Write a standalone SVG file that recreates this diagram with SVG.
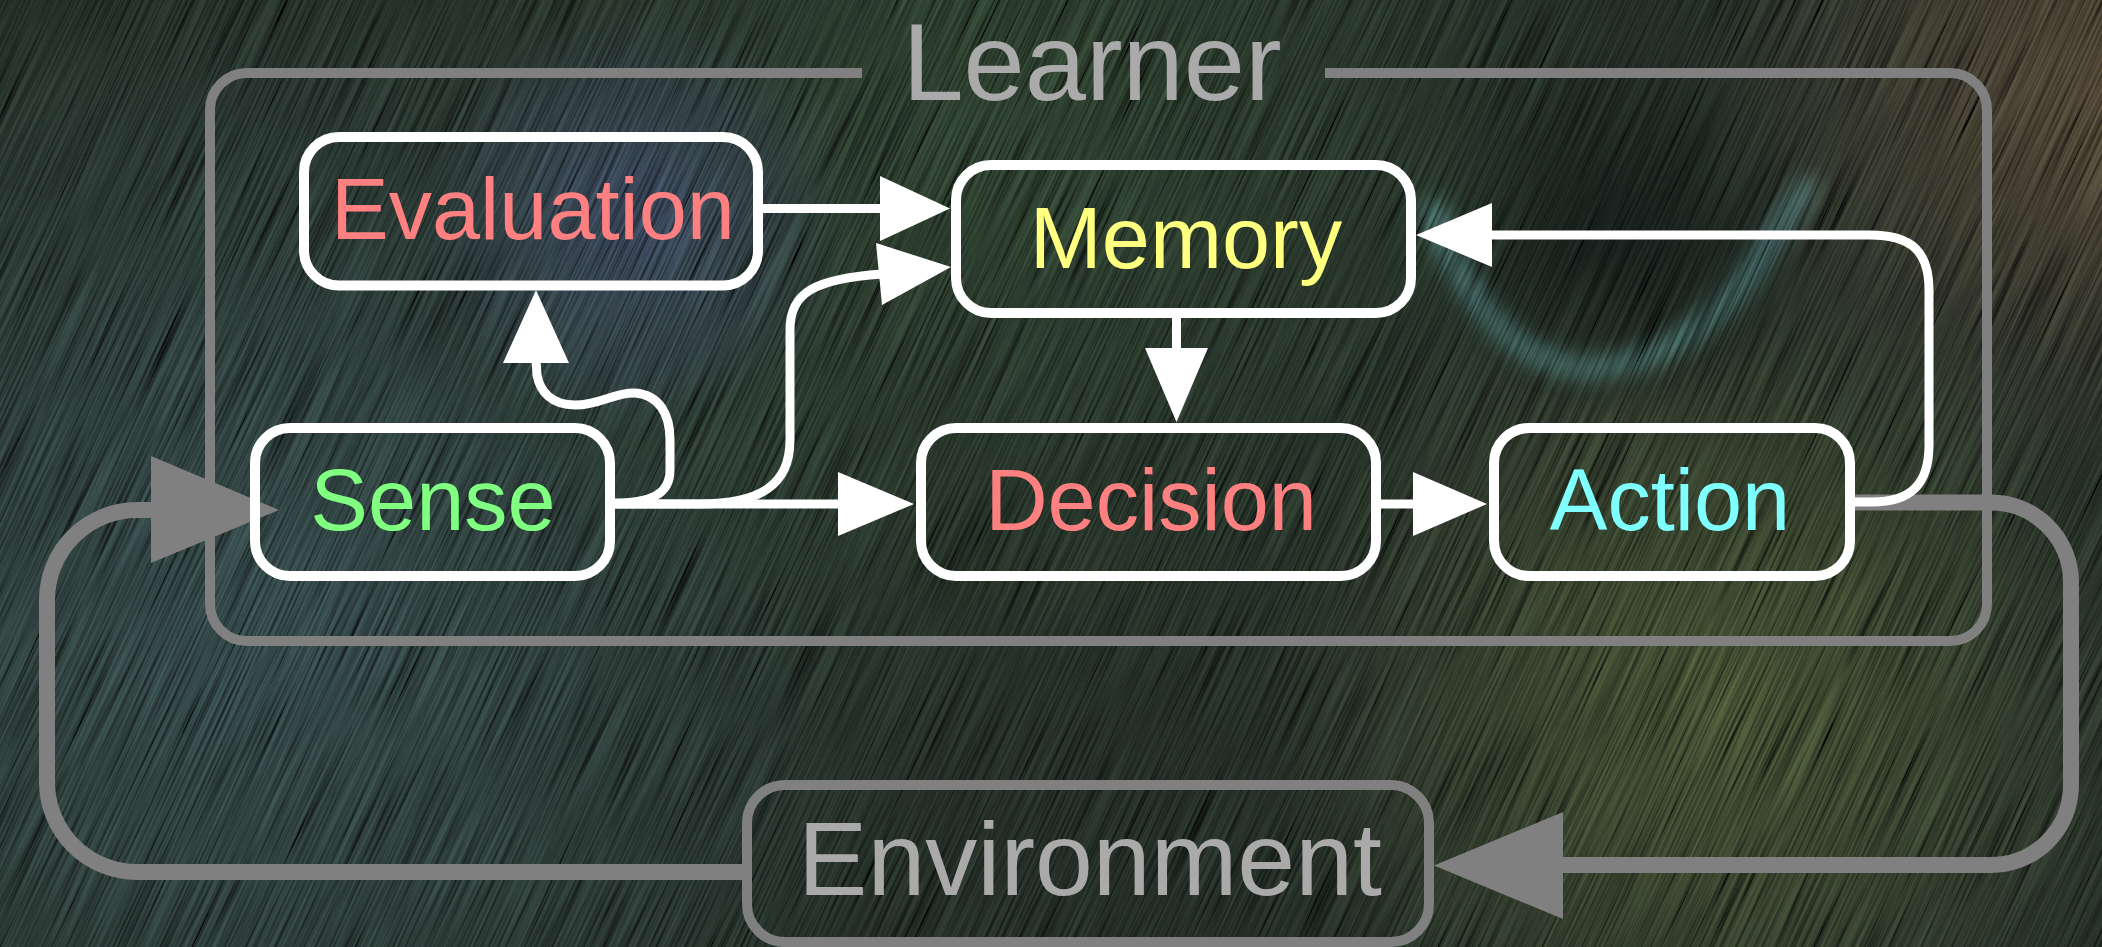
<svg xmlns="http://www.w3.org/2000/svg" width="2102" height="947" viewBox="0 0 2102 947">
  <style>
    .box { fill: none; stroke: #ffffff; stroke-width: 10; }
    .env { fill: none; stroke: #808080; stroke-width: 10; }
    .frame { fill: none; stroke: #808080; stroke-width: 10; }
    .wire { fill: none; stroke: #ffffff; stroke-width: 9; }
    .loop { fill: none; stroke: #808080; stroke-width: 16; }
    .head { fill: #ffffff; }
    .ghead { fill: #808080; }
    .lbl { font-family: "Liberation Sans", Arial, Helvetica, sans-serif; font-size: 86.5px; text-anchor: middle; }
    .big { font-family: "Liberation Sans", Arial, Helvetica, sans-serif; text-anchor: middle; fill: #aaaaaa; }
  </style>
  <defs>
    <radialGradient id="gTeal" gradientUnits="userSpaceOnUse" cx="260" cy="620" r="680">
      <stop offset="0" stop-color="#28393b" stop-opacity="0.75"/>
      <stop offset="1" stop-color="#28393b" stop-opacity="0"/>
    </radialGradient>
    <radialGradient id="gViolet" gradientUnits="userSpaceOnUse" cx="640" cy="215" r="220">
      <stop offset="0" stop-color="#343c62" stop-opacity="0.5"/>
      <stop offset="1" stop-color="#343c62" stop-opacity="0"/>
    </radialGradient>
    <radialGradient id="gGreen" gradientUnits="userSpaceOnUse" cx="1000" cy="120" r="620">
      <stop offset="0" stop-color="#283c27" stop-opacity="0.45"/>
      <stop offset="1" stop-color="#283c27" stop-opacity="0"/>
    </radialGradient>
    <radialGradient id="gOlive" gradientUnits="userSpaceOnUse" cx="1720" cy="700" r="460">
      <stop offset="0" stop-color="#46502b" stop-opacity="0.5"/>
      <stop offset="1" stop-color="#46502b" stop-opacity="0"/>
    </radialGradient>
    <radialGradient id="gBrown" gradientUnits="userSpaceOnUse" cx="2102" cy="90" r="400">
      <stop offset="0" stop-color="#3b3226" stop-opacity="0.9"/>
      <stop offset="1" stop-color="#3b3226" stop-opacity="0"/>
    </radialGradient>
    <radialGradient id="gEye" gradientUnits="userSpaceOnUse" cx="1620" cy="230" r="190">
      <stop offset="0" stop-color="#0e1311" stop-opacity="0.85"/>
      <stop offset="1" stop-color="#0e1311" stop-opacity="0"/>
    </radialGradient>
    <filter id="soft" x="-20%" y="-20%" width="140%" height="140%">
      <feGaussianBlur stdDeviation="10"/>
    </filter>
    <filter id="streaks" filterUnits="userSpaceOnUse" x="-40" y="-920" width="2400" height="1820">
      <feTurbulence type="fractalNoise" baseFrequency="0.45 0.006" numOctaves="3" seed="11"/>
      <feColorMatrix type="matrix" values="1.5 0 0 0 -0.27  1.5 0 0 0 -0.27  1.5 0 0 0 -0.27  0 0 0 0 1"/>
    </filter>
  </defs>

  <!-- textured backdrop -->
  <g id="backdrop">
    <rect width="2102" height="947" fill="#19201b"/>
    <rect width="2102" height="947" fill="url(#gTeal)"/>
    <rect width="2102" height="947" fill="url(#gGreen)"/>
    <rect width="2102" height="947" fill="url(#gViolet)"/>
    <rect width="2102" height="947" fill="url(#gOlive)"/>
    <rect width="2102" height="947" fill="url(#gBrown)"/>
    <rect width="2102" height="947" fill="url(#gEye)"/>
    <path d="M1430,200 C1460,300 1520,370 1590,368 C1660,366 1720,320 1760,260 C1780,230 1800,195 1812,180" fill="none" stroke="#5a9aa0" stroke-width="22" opacity="0.3" filter="url(#soft)"/>
    <rect x="-40" y="-920" width="2400" height="1820" transform="rotate(25)" filter="url(#streaks)" style="mix-blend-mode:overlay"/>
  </g>

  <!-- Learner frame with its title in the gap of the top edge -->
  <g id="learner">
    <path class="frame" d="M862,73 H247 A37,37 0 0 0 210,110 V604 A37,37 0 0 0 247,641 H1950 A37,37 0 0 0 1987,604 V110 A37,37 0 0 0 1950,73 H1325"/>
    <text class="big" x="1092" y="100" font-size="110">Learner</text>
  </g>

  <g id="connectors">
    <!-- outer loop: Action -> Environment -> Sense -->
    <path class="loop" d="M1850,502.5 H1991 A80,80 0 0 1 2071,582.5 V785 A80,80 0 0 1 1991,865 H1560"/>
    <polygon class="ghead" points="1563,812 1434,865.5 1563,919"/>
    <path class="loop" d="M742,872 H137 A90,90 0 0 1 47,782 V600 A90,90 0 0 1 137,510 H155"/>
    <polygon class="ghead" points="151,456 279,510 151,563"/>

    <!-- Evaluation -> Memory -->
    <path class="wire" d="M763,208.5 H882"/>
    <polygon class="head" points="880,176 950,208.5 880,241"/>
    <!-- Sense -> Memory -->
    <path class="wire" d="M612,504 H700 C760,504 790,485 790,440 V330 C790,292 815,279 882,274"/>
    <polygon class="head" points="876,243 951,267 882,305"/>
    <!-- Sense -> Evaluation -->
    <path class="wire" d="M612,503 C650,503 670,495 670,470 L670,440 C670,415 660,395 635,393 C615,392 600,405 575,405 C552,405 540,392 537,375 L536,360"/>
    <polygon class="head" points="503,363 536,290 569,363"/>
    <!-- Memory -> Decision -->
    <path class="wire" d="M1176.5,313 V351"/>
    <polygon class="head" points="1145,348 1176.5,422 1208,348"/>
    <!-- Sense -> Decision -->
    <path class="wire" d="M610,504 H840"/>
    <polygon class="head" points="838,472 914,504 838,536"/>
    <!-- Decision -> Action -->
    <path class="wire" d="M1376,504 H1415"/>
    <polygon class="head" points="1413,472 1487,504 1413,536"/>
    <!-- Action -> Memory -->
    <path class="wire" d="M1850,502 H1872 C1910,502 1929,485 1929,445 V290 C1929,252 1912,235 1870,235 H1490"/>
    <polygon class="head" points="1492,203 1416,235 1492,267"/>
  </g>

  <g id="evaluation">
    <rect class="box" x="304" y="137" width="454" height="148.5" rx="35"/>
    <text class="lbl" x="533" y="239" fill="#ff8080">Evaluation</text>
  </g>
  <g id="memory">
    <rect class="box" x="956" y="165" width="455" height="148" rx="35"/>
    <text class="lbl" x="1186" y="268" fill="#ffff80">Memory</text>
  </g>
  <g id="sense">
    <rect class="box" x="255" y="428" width="355" height="148" rx="35"/>
    <text class="lbl" x="433" y="530" fill="#80ff80">Sense</text>
  </g>
  <g id="decision">
    <rect class="box" x="921" y="428" width="455" height="148" rx="35"/>
    <text class="lbl" x="1151" y="530" fill="#ff8080">Decision</text>
  </g>
  <g id="action">
    <rect class="box" x="1494" y="428" width="356" height="148" rx="35"/>
    <text class="lbl" x="1670" y="530" fill="#80ffff">Action</text>
  </g>
  <g id="environment">
    <rect class="env" x="747" y="785" width="682" height="157" rx="38"/>
    <text class="big" x="1090" y="895" font-size="104">Environment</text>
  </g>
</svg>
